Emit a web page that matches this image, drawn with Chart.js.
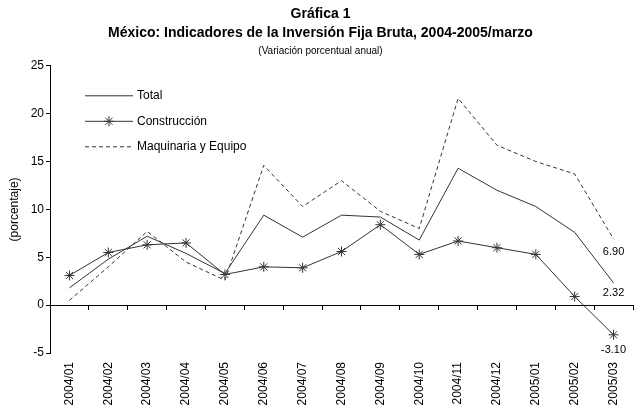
<!DOCTYPE html>
<html><head><meta charset="utf-8">
<script src="https://cdn.jsdelivr.net/npm/chart.js@4.4.1/dist/chart.umd.min.js"></script>
<style>html,body{margin:0;padding:0;background:#fff;overflow:hidden}
#wrap{position:relative;width:639px;height:414px}</style></head>
<body><div id="wrap"><canvas id="c"></canvas></div>
<script>
const categories = ['2004/01','2004/02','2004/03','2004/04','2004/05','2004/06','2004/07','2004/08','2004/09','2004/10','2004/11','2004/12','2005/01','2005/02','2005/03'];
const total        = [1.8, 4.8, 7.2, 5.4, 3.3, 9.4, 7.1, 9.4, 9.2, 6.8, 14.3, 12.0, 10.3, 7.6, 2.32];
const construccion = [3.1, 5.5, 6.3, 6.5, 3.2, 4.0, 3.9, 5.6, 8.4, 5.3, 6.7, 6.0, 5.3, 0.9, -3.10];
const maquinaria   = [0.5, 4.0, 7.7, 4.5, 2.6, 14.6, 10.3, 13.0, 9.8, 8.0, 21.6, 16.7, 15.0, 13.7, 6.90];
const seriesNames  = ['Total', 'Construcción', 'Maquinaria y Equipo'];
const yMin = -5, yMax = 25, yStep = 5;
const titleLines = ['Gráfica 1', 'México: Indicadores de la Inversión Fija Bruta, 2004-2005/marzo'];
const subtitleText = '(Variación porcentual anual)';
const yTitle = '(porcentaje)';

const FONT = "'Liberation Sans', Arial, sans-serif";
const INK = '#333333';

const endLabelPlugin = {
  id: 'endLabels',
  afterDatasetsDraw(chart) {
    const ctx = chart.ctx;
    ctx.save();
    ctx.font = "11px " + FONT;
    ctx.fillStyle = '#000';
    ctx.textAlign = 'center';
    ctx.textBaseline = 'middle';
    chart.data.datasets.forEach((ds, i) => {
      if (!ds.endLabel) return;
      const meta = chart.getDatasetMeta(i);
      const pt = meta.data[meta.data.length - 1];
      const v = ds.data[ds.data.length - 1];
      ctx.fillText(v.toFixed(2), pt.x, pt.y + ds.endLabelOffset);
    });
    ctx.restore();
  }
};

const legendPlugin = {
  id: 'innerLegend',
  afterDatasetsDraw(chart) {
    const ctx = chart.ctx;
    const a = chart.chartArea;
    ctx.save();
    ctx.font = "12px " + FONT;
    ctx.textBaseline = 'middle';
    chart.data.datasets.forEach((ds, i) => {
      const y = a.top + 30 + i * 25.5;
      const x0 = a.left + 35, x1 = a.left + 83;
      ctx.strokeStyle = ds.borderColor;
      ctx.lineWidth = ds.borderWidth;
      ctx.setLineDash(ds.borderDash || []);
      ctx.beginPath(); ctx.moveTo(x0, y); ctx.lineTo(x1, y); ctx.stroke();
      ctx.setLineDash([]);
      if (ds.pointStyle === 'star') {
        Chart.helpers.drawPoint(ctx, {pointStyle: 'star', radius: ds.pointRadius, rotation: 0, borderWidth: 1}, (x0 + x1) / 2, y);
      }
      ctx.fillStyle = '#000';
      ctx.fillText(ds.label, x1 + 4, y);
    });
    ctx.restore();
  }
};

new Chart(document.getElementById('c'), {
  type: 'line',
  data: {
    labels: categories,
    datasets: [
      { label: seriesNames[0], data: total, borderColor: INK, borderWidth: 1, pointRadius: 0, tension: 0, endLabel: true, endLabelOffset: 10 },
      { label: seriesNames[1], data: construccion, borderColor: INK, backgroundColor: INK, borderWidth: 1, pointStyle: 'star', pointRadius: 5, pointBorderColor: INK, pointBorderWidth: 1, tension: 0, endLabel: true, endLabelOffset: 15 },
      { label: seriesNames[2], data: maquinaria, borderColor: INK, borderWidth: 1, borderDash: [4, 3], pointRadius: 0, tension: 0, endLabel: true, endLabelOffset: 13 }
    ]
  },
  options: {
    responsive: true,
    maintainAspectRatio: false,
    animation: false,
    layout: { padding: { left: 0, right: -2, top: 0, bottom: 0 } },
    plugins: {
      legend: { display: false },
      tooltip: { enabled: false },
      title: { display: true, text: titleLines, color: '#000', font: { family: FONT, size: 14, weight: 'bold', lineHeight: 1.35 }, padding: { top: 5, bottom: 2 } },
      subtitle: { display: true, text: subtitleText, color: '#000', font: { family: FONT, size: 10, lineHeight: 1.2 }, padding: { top: 0, bottom: 9 } }
    },
    scales: {
      x: {
        type: 'category', position: 'bottom', offset: true,
        grid: { display: false, drawTicks: false },
        border: { display: false },
        ticks: { color: '#000', font: { family: FONT, size: 12 }, minRotation: 90, maxRotation: 90, autoSkip: false, padding: 9 },
        afterFit(s) { s.height = 61; }
      },
      x2: {
        type: 'category', position: { y: 0 }, offset: true,
        grid: { display: true, drawOnChartArea: false, drawTicks: true, tickLength: 4, color: '#000', offset: true },
        border: { display: true, color: '#000', width: 1 },
        ticks: { display: false }
      },
      y: {
        min: yMin, max: yMax,
        grid: { display: true, drawOnChartArea: false, drawTicks: true, tickLength: 4, color: '#000' },
        border: { display: true, color: '#000', width: 1 },
        ticks: { stepSize: yStep, color: '#000', font: { family: FONT, size: 12 }, padding: 2 },
        title: { display: true, text: yTitle, color: '#000', font: { family: FONT, size: 12 }, padding: { top: 7, bottom: 0 } },
        afterFit(s) { s.width = 50; }
      }
    }
  },
  plugins: [endLabelPlugin, legendPlugin]
});
</script></body></html>
